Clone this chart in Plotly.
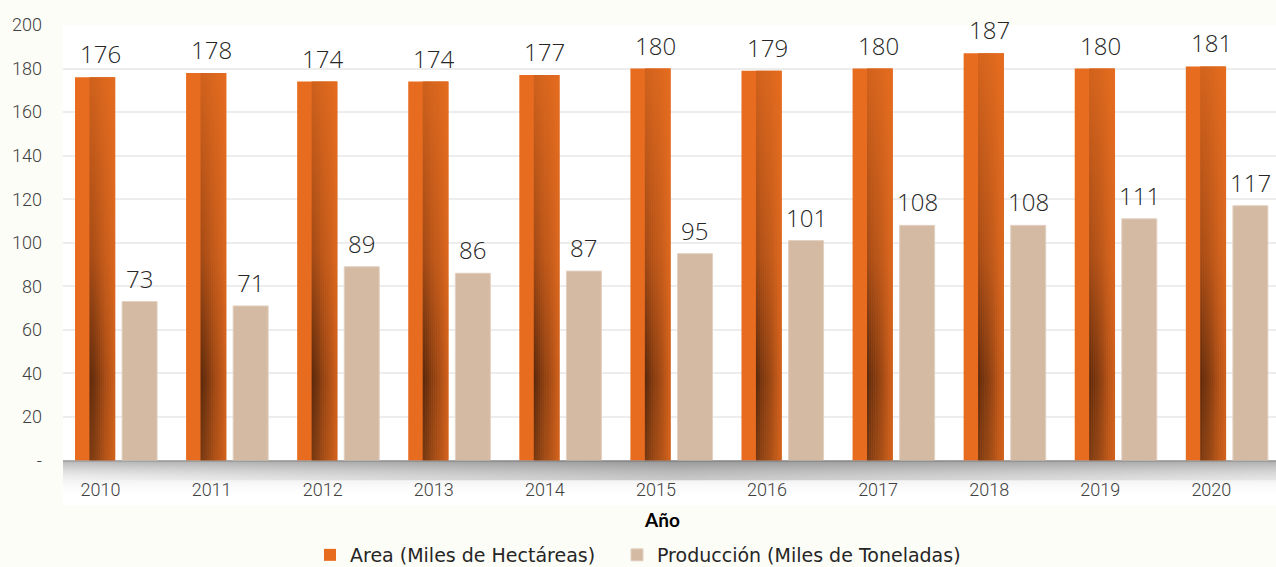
import plotly.graph_objects as go

years = ["2010", "2011", "2012", "2013", "2014", "2015", "2016", "2017", "2018", "2019", "2020"]
area = [176, 178, 174, 174, 177, 180, 179, 180, 187, 180, 181]
produccion = [73, 71, 89, 86, 87, 95, 101, 108, 108, 111, 117]
y_ticks = [0, 20, 40, 60, 80, 100, 120, 140, 160, 180, 200]
y_ticktext = ["-", "20", "40", "60", "80", "100", "120", "140", "160", "180", "200"]
name_area = "Area (Miles de Hectáreas)"
name_prod = "Producción (Miles de Toneladas)"
x_title = "Año"

ORANGE = "#E86C1F"
TAN = "#D4B9A3"
PAPER = "#FDFDF7"

xs = list(range(len(years)))

# bar geometry (category units)
OFF_A, W_A = -0.392, 0.36
OFF_P, W_P = 0.032, 0.315
SH_OFF, SH_W = -0.262, 0.23
Y_MIN = -20.4

fig = go.Figure()

fig.add_trace(go.Bar(x=xs, y=area, name=name_area, offset=OFF_A, width=W_A, legend="legend",
                     marker=dict(color=ORANGE, line=dict(width=0))))
fig.add_trace(go.Bar(x=xs, y=produccion, name=name_prod, offset=OFF_P, width=W_P, legend="legend2",
                     marker=dict(color=TAN, line=dict(color="#E2D0C0", width=1))))


def hex2rgb(h):
    h = h.lstrip("#")
    return [int(h[i:i + 2], 16) for i in (0, 2, 4)]


def mix(c1, c2, t):
    a, b = hex2rgb(c1), hex2rgb(c2)
    return "rgb(%d,%d,%d)" % tuple(round(a[i] + (b[i] - a[i]) * t) for i in range(3))


# shading on the orange bars (gradient strips)
def strip(off, w, scale):
    px, py = [], []
    for x, v in zip(xs, area):
        x0, x1 = x + off, x + off + w
        px += [x0, x1, x1, x0, x0, None]
        py += [0, 0, v, v, 0, None]
    return go.Scatter(x=px, y=py, mode="none", fill="toself", showlegend=False,
                      hoverinfo="skip",
                      fillgradient=dict(type="vertical", colorscale=scale,
                                        start=0, stop=max(area)))


stops = [0, 0.2, 0.5, 1]
dark = ["#7A3A12", "#5E2A0C", "#A44B16", "#D4641D"]
light = ["#D0611C", "#CC5E1B", "#DA661E", "#E56C1F"]
N = 12
for k in range(N):
    t = k / (N - 1)
    scale = [[s, mix(dark[i], light[i], t)] for i, s in enumerate(stops)]
    fig.add_trace(strip(SH_OFF + SH_W * k / N, SH_W / N + 0.003, scale))

# floor shadow below the axis
fig.add_trace(go.Scatter(x=[-0.62, 10.6, 10.6, -0.62, -0.62], y=[0, 0, -17, -17, 0],
                         mode="none", fill="toself", showlegend=False, hoverinfo="skip",
                         fillgradient=dict(type="vertical",
                                           colorscale=[[0, "rgba(255,255,255,0)"],
                                                       [0.55, "rgba(200,200,200,0.3)"],
                                                       [1, "rgba(150,150,150,0.7)"]],
                                           start=-17, stop=0)))
fig.add_trace(go.Scatter(x=[-0.62, 10.6, 10.6, -0.62, -0.62], y=[0, 0, -9, -9, 0],
                         mode="none", fill="toself", showlegend=False, hoverinfo="skip",
                         fillgradient=dict(type="horizontal",
                                           colorscale=[[0, "rgba(0,0,0,0)"],
                                                       [0.5, "rgba(0,0,0,0.18)"],
                                                       [1, "rgba(0,0,0,0.05)"]],
                                           start=-0.62, stop=10.6)))

annotations = []
lab_font = dict(family="Open Sans", size=24, color="#262626", weight=300)
for x, v in zip(xs, area):
    annotations.append(dict(x=x + OFF_A + W_A / 2 + 0.05, y=v, text=str(v), showarrow=False,
                            yanchor="bottom", yshift=5, font=lab_font))
for x, v in zip(xs, produccion):
    annotations.append(dict(x=x + OFF_P + W_P / 2, y=v, text=str(v), showarrow=False,
                            yanchor="bottom", yshift=5, font=lab_font))
annotations.append(dict(xref="paper", yref="paper", x=0.494, y=-0.030, text=f"<b>{x_title}</b>",
                        showarrow=False, yanchor="middle",
                        font=dict(family="Lato", size=19, color="#000000")))

leg_font = dict(family="DejaVu Sans", size=19, color="#262626")
leg_common = dict(orientation="h", xref="container", yref="container", xanchor="left",
                  yanchor="middle", y=1 - 555 / 567, font=leg_font,
                  bgcolor="rgba(0,0,0,0)")

fig.update_layout(
    width=1276, height=567,
    margin=dict(l=63, r=0, t=25, b=61.5, autoexpand=False),
    paper_bgcolor=PAPER, plot_bgcolor="#FFFFFF",
    barmode="overlay",
    showlegend=True,
    legend=dict(x=310 / 1276, **leg_common),
    legend2=dict(x=617 / 1276, **leg_common),
    annotations=annotations,
    xaxis=dict(range=[-0.5, 10.42], tickvals=xs, ticktext=years, showgrid=False,
               zeroline=False, showline=False, ticks="", automargin=False,
               ticklabelposition="inside", ticklabelshift=-18, ticklabelstandoff=2,
               tickfont=dict(family="Roboto", size=18, color="#404040", weight=300)),
    yaxis=dict(range=[Y_MIN, 200], tickvals=y_ticks, ticktext=y_ticktext, automargin=False,
               showgrid=True, gridcolor="#EDEDED", gridwidth=2,
               zeroline=True, zerolinecolor="#C0C0C0", zerolinewidth=2,
               showline=False, ticks="", ticklabelstandoff=20,
               tickfont=dict(family="Roboto", size=18, color="#404040", weight=300)),
)

fig.write_html("out.html", config={"displayModeBar": False},
               post_script="document.body.style.margin='0';document.body.style.background='%s';" % PAPER)
